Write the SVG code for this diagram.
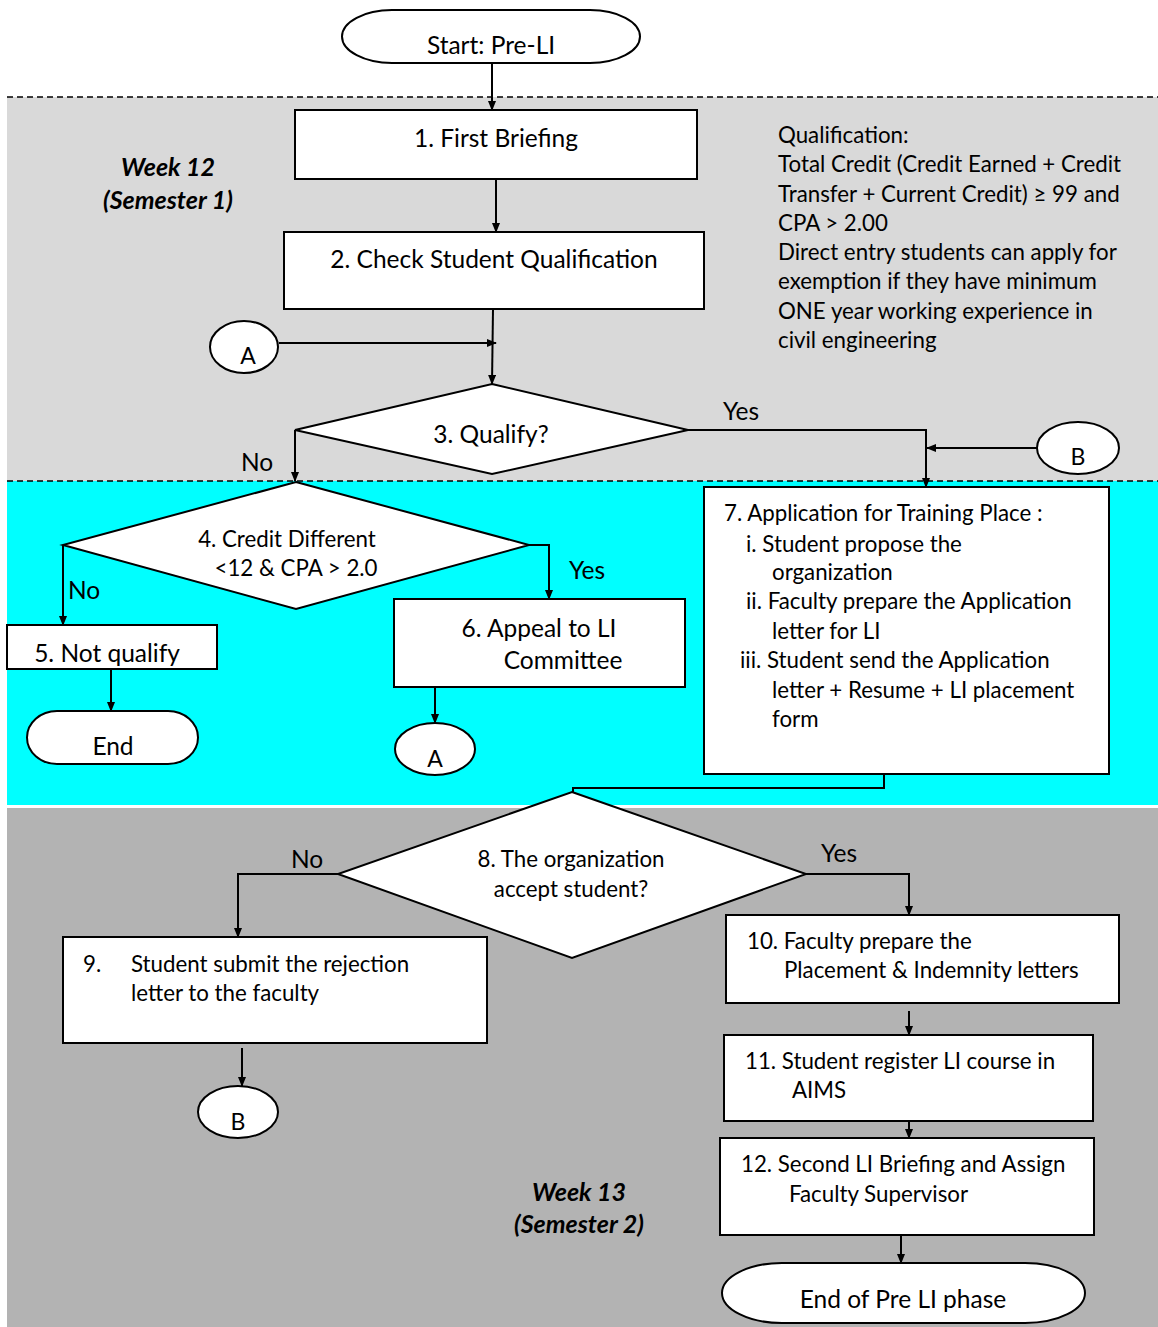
<svg xmlns="http://www.w3.org/2000/svg" width="1158" height="1327" viewBox="0 0 1158 1327">
<defs>
<marker id="ah" markerWidth="10" markerHeight="8" refX="9" refY="4" orient="auto" markerUnits="userSpaceOnUse">
<path d="M0,0 L10,4 L0,8 z" fill="#000"/>
</marker>
<style>
.bx{fill:#fff;stroke:#000;stroke-width:2}
.ln{fill:none;stroke:#000;stroke-width:2}
.ar{fill:none;stroke:#000;stroke-width:2;marker-end:url(#ah)}
.t{font-family:Lato,"Open Sans","Liberation Sans",sans-serif;font-size:22.3px;fill:#000}
.b{font-size:24.5px}
.m{font-size:23px}
.c{text-anchor:middle}
.wk{font-family:Lato,"Open Sans","Liberation Sans",sans-serif;font-size:25px;font-weight:bold;font-style:italic;text-anchor:middle}
.dash{stroke:#000;stroke-width:1.5;stroke-dasharray:6,4}
</style>
</defs>
<g id="background">
<rect x="0" y="0" width="1158" height="1327" fill="#fff"/>
<rect x="7" y="97" width="1151" height="384" fill="#d9d9d9"/>
<rect x="7" y="481" width="1151" height="324" fill="#00ffff"/>
<rect x="7" y="808" width="1151" height="519" fill="#b3b3b3"/>
<line class="dash" x1="7" y1="97" x2="1158" y2="97"/>
<line class="dash" x1="7" y1="481" x2="1158" y2="481"/>
<text class="wk" x="168" y="176">Week 12</text>
<text class="wk" x="168" y="209">(Semester 1)</text>
<text class="wk" x="579" y="1201">Week 13</text>
<text class="wk" x="579" y="1233">(Semester 2)</text>
</g>
<g id="connectors">
<line class="ar" x1="492" y1="63" x2="492" y2="110"/>
<line class="ar" x1="496" y1="179" x2="496" y2="232"/>
<line class="ar" x1="493" y1="309" x2="492" y2="384"/>
<line class="ar" x1="279" y1="343" x2="496" y2="343"/>
<polyline class="ar" points="295,430 295,481"/>
<polyline class="ar" points="688,430 926,430 926,487"/>
<line class="ar" x1="1038" y1="448" x2="927" y2="448"/>
<polyline class="ar" points="63,545 63,625"/>
<polyline class="ar" points="529,545 549,545 549,599"/>
<line class="ar" x1="111" y1="669" x2="111" y2="711"/>
<line class="ar" x1="435" y1="687" x2="435" y2="723"/>
<polyline class="ln" points="884,774 884,788 573,788 573,792"/>
<polyline class="ar" points="338,874 238,874 238,937"/>
<polyline class="ar" points="806,874 909,874 909,915"/>
<line class="ar" x1="242" y1="1048" x2="242" y2="1086"/>
<line class="ar" x1="909" y1="1011" x2="909" y2="1035"/>
<line class="ar" x1="909" y1="1108" x2="909" y2="1138"/>
<line class="ar" x1="901" y1="1236" x2="901" y2="1263"/>
<text class="t b c" x="257" y="471">No</text>
<text class="t b c" x="741" y="420">Yes</text>
<text class="t b" x="68" y="599">No</text>
<text class="t b c" x="587" y="579">Yes</text>
<text class="t b c" x="307" y="868">No</text>
<text class="t b c" x="839" y="862">Yes</text>
</g>
<g id="start">
<rect class="bx" x="342" y="10" width="298" height="53" rx="50" ry="26.5"/>
<text class="t b c" x="491" y="54">Start: Pre-LI</text>
</g>
<g id="n1">
<rect class="bx" x="295" y="110" width="402" height="69"/>
<text class="t b c" x="496" y="147">1. First Briefing</text>
</g>
<g id="n2">
<rect class="bx" x="284" y="232" width="420" height="77"/>
<text class="t b c" x="494" y="268">2. Check Student Qualification</text>
</g>
<g id="note">
<text class="t" x="778" y="143">Qualification:</text>
<text class="t" x="778" y="172">Total Credit (Credit Earned + Credit</text>
<text class="t" x="778" y="202">Transfer + Current Credit) ≥ 99 and</text>
<text class="t" x="778" y="231">CPA &gt; 2.00</text>
<text class="t" x="778" y="260">Direct entry students can apply for</text>
<text class="t" x="778" y="289">exemption if they have minimum</text>
<text class="t" x="778" y="319">ONE year working experience in</text>
<text class="t" x="778" y="348">civil engineering</text>
</g>
<g id="connA1">
<ellipse class="bx" cx="244" cy="347" rx="34" ry="26"/>
<text class="t m c" x="248" y="364">A</text>
</g>
<g id="n3">
<polygon class="bx" points="492,384 688,430 492,474 295,430"/>
<text class="t b c" x="491" y="443">3. Qualify?</text>
</g>
<g id="connB1">
<ellipse class="bx" cx="1078" cy="448" rx="41" ry="26"/>
<text class="t m c" x="1078" y="465">B</text>
</g>
<g id="n4">
<polygon class="bx" points="296,482 529,545 296,609 63,545"/>
<text class="t c" x="287" y="547">4. Credit Different</text>
<text class="t c" x="296" y="576">&lt;12 &amp; CPA &gt; 2.0</text>
</g>
<g id="n5">
<rect class="bx" x="7" y="625" width="210" height="44"/>
<text class="t b c" x="107" y="662">5. Not qualify</text>
</g>
<g id="end1">
<rect class="bx" x="27" y="711" width="171" height="53" rx="30" ry="26.5"/>
<text class="t b c" x="113" y="755">End</text>
</g>
<g id="n6">
<rect class="bx" x="394" y="599" width="291" height="88"/>
<text class="t b c" x="539" y="637">6. Appeal to LI</text>
<text class="t b c" x="563" y="669">Committee</text>
</g>
<g id="connA2">
<ellipse class="bx" cx="435" cy="749" rx="40" ry="26"/>
<text class="t m c" x="435" y="767">A</text>
</g>
<g id="n7">
<rect class="bx" x="704" y="487" width="405" height="287"/>
<text class="t" x="724" y="521">7. Application for Training Place :</text>
<text class="t" x="746" y="552">i. Student propose the</text>
<text class="t" x="772" y="580">organization</text>
<text class="t" x="746" y="609">ii. Faculty prepare the Application</text>
<text class="t" x="772" y="639">letter for LI</text>
<text class="t" x="740" y="668">iii. Student send the Application</text>
<text class="t" x="772" y="698">letter + Resume + LI placement</text>
<text class="t" x="772" y="727">form</text>
</g>
<g id="n8">
<polygon class="bx" points="572,792 806,874 572,958 338,874"/>
<text class="t c" x="571" y="867">8. The organization</text>
<text class="t c" x="571" y="897">accept student?</text>
</g>
<g id="n9">
<rect class="bx" x="63" y="937" width="424" height="106"/>
<text class="t" x="83" y="972">9.</text>
<text class="t" x="131" y="972">Student submit the rejection</text>
<text class="t" x="131" y="1001">letter to the faculty</text>
</g>
<g id="connB2">
<ellipse class="bx" cx="238" cy="1112" rx="40" ry="26"/>
<text class="t m c" x="238" y="1130">B</text>
</g>
<g id="n10">
<rect class="bx" x="726" y="915" width="393" height="88"/>
<text class="t" x="747" y="949">10. Faculty prepare the</text>
<text class="t" x="784" y="978">Placement &amp; Indemnity letters</text>
</g>
<g id="n11">
<rect class="bx" x="724" y="1035" width="369" height="86"/>
<text class="t" x="745" y="1069">11. Student register LI course in</text>
<text class="t" x="792" y="1098">AIMS</text>
</g>
<g id="n12">
<rect class="bx" x="720" y="1138" width="374" height="97"/>
<text class="t" x="741" y="1172">12. Second LI Briefing and Assign</text>
<text class="t" x="789" y="1202">Faculty Supervisor</text>
</g>
<g id="end2">
<rect class="bx" x="722" y="1263" width="363" height="60" rx="60" ry="30"/>
<text class="t b c" x="903" y="1308">End of Pre LI phase</text>
</g>
</svg>
